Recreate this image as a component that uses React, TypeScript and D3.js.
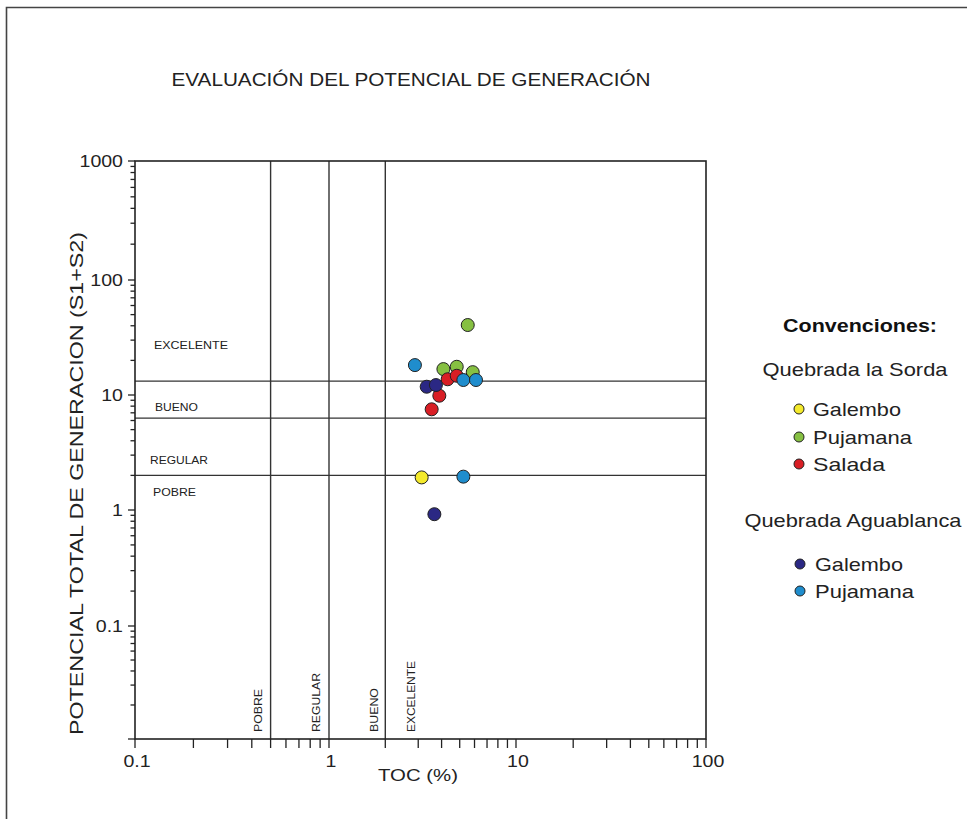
import React from "react";
import * as d3 from "d3";

// ---- data ----
const sordaGalembo = [{ toc: 3.13, s: 1.92 }];
const sordaPujamana = [
  { toc: 5.52, s: 40.6 },
  { toc: 4.09, s: 16.8 },
  { toc: 4.82, s: 17.6 },
  { toc: 5.87, s: 15.8 },
];
const sordaSalada = [
  { toc: 4.31, s: 13.7 },
  { toc: 4.82, s: 14.7 },
  { toc: 3.89, s: 9.86 },
  { toc: 3.54, s: 7.51 },
];
const aguaPujamana = [
  { toc: 2.88, s: 18.2 },
  { toc: 5.23, s: 13.5 },
  { toc: 6.11, s: 13.5 },
  { toc: 5.23, s: 1.95 },
];
const aguaGalembo = [
  { toc: 3.33, s: 11.8 },
  { toc: 3.73, s: 12.2 },
  { toc: 3.66, s: 0.92 },
];

const tocThresholds = [0.5, 1, 2];
const tocThresholdLabels = ["POBRE", "REGULAR", "BUENO", "EXCELENTE"];
const s1s2Thresholds = [13.2, 6.3, 2];
const s1s2ZoneLabels = ["EXCELENTE", "BUENO", "REGULAR", "POBRE"];
const xDecades = [0.1, 1, 10, 100];
const yDecades = [1000, 100, 10, 1, 0.1, 0.01];
const xTickLabels = ["0.1", "1", "10", "100"];
const yTickLabels = ["1000", "100", "10", "1", "0.1"];

const COLORS = {
  yellow: "#f4ea2c",
  green: "#86c042",
  red: "#d81e25",
  navy: "#2b2884",
  blue: "#1f8dcd",
};

const FONT = "'Liberation Sans', Arial, Helvetica, sans-serif";

const digitWidth = (s: string, fs: number) =>
  s.split("").reduce((a, c) => a + (c === "." ? 0.278 : 0.556), 0) * fs;

export default function App() {
  const W = 967;
  const H = 819;
  const x0 = 135, x1 = 706, y0 = 161, y1 = 739;
  // the original graph's decades are not perfectly evenly spaced: piecewise log scales
  const x = d3.scaleLog().domain(xDecades).range([135, 329, 516, 706]);
  const y = d3.scaleLog().domain(yDecades).range([161, 280, 395, 510, 626, 739]);

  const yTicks = d3.scaleLog().domain([0.01, 1000]).ticks();
  const xTicks = d3.scaleLog().domain([0.1, 100]).ticks();
  const isMajor = (v: number) => Math.abs(Math.log10(v) - Math.round(Math.log10(v))) < 1e-6;

  const series = [
    { data: sordaPujamana, color: COLORS.green },
    { data: sordaSalada, color: COLORS.red },
    { data: aguaPujamana, color: COLORS.blue },
    { data: aguaGalembo, color: COLORS.navy },
    { data: sordaGalembo, color: COLORS.yellow },
  ];

  const hZone = [
    { x: 154, y: 345, w: 74 },
    { x: 155, y: 407, w: 43 },
    { x: 150, y: 460, w: 58 },
    { x: 153, y: 492, w: 43 },
  ];
  const vZone = [
    { x: 258, w: 43 },
    { x: 316, w: 59 },
    { x: 374, w: 44 },
    { x: 411, w: 71 },
  ];

  const legend1 = [
    { label: "Galembo", color: COLORS.yellow, y: 409, w: 88 },
    { label: "Pujamana", color: COLORS.green, y: 437, w: 99 },
    { label: "Salada", color: COLORS.red, y: 464, w: 72 },
  ];
  const legend2 = [
    { label: "Galembo", color: COLORS.navy, y: 564, w: 88 },
    { label: "Pujamana", color: COLORS.blue, y: 591, w: 99 },
  ];

  const TFS = 17;
  const stretch = 1.15;

  return (
    <svg
      width={W}
      height={H}
      style={{ position: "absolute", left: 0, top: 0, background: "#fff" }}
      fontFamily={FONT}
    >
      <rect x={0} y={0} width={W} height={H} fill="#fff" />
      {/* outer frame */}
      <path d={`M6.5,${H} V7.5 H${W}`} fill="none" stroke="#444" strokeWidth={1.6} />

      {/* title */}
      <text x={411} y={86} textAnchor="middle" fontSize={17.5} fill="#222" textLength={479} lengthAdjust="spacingAndGlyphs">
        EVALUACIÓN DEL POTENCIAL DE GENERACIÓN
      </text>

      {/* threshold lines */}
      {s1s2Thresholds.map((v, i) => (
        <line key={"h" + i} x1={x0} x2={x1} y1={y(v)} y2={y(v)} stroke="#333" strokeWidth={1.4} />
      ))}
      {tocThresholds.map((v, i) => (
        <line key={"v" + i} x1={x(v)} x2={x(v)} y1={y0} y2={y1} stroke="#333" strokeWidth={1.4} />
      ))}

      {/* zone labels */}
      {s1s2ZoneLabels.map((t, i) => (
        <text key={"hz" + i} x={hZone[i].x} y={hZone[i].y + 4} fontSize={11.5} fill="#222" textLength={hZone[i].w} lengthAdjust="spacingAndGlyphs">
          {t}
        </text>
      ))}
      {tocThresholdLabels.map((t, i) => (
        <text
          key={"vz" + i}
          transform={`translate(${vZone[i].x + 4},732) rotate(-90)`}
          fontSize={11.5}
          fill="#222"
          textLength={vZone[i].w}
          lengthAdjust="spacingAndGlyphs"
        >
          {t}
        </text>
      ))}

      {/* plot box */}
      <rect x={x0} y={y0} width={x1 - x0} height={y1 - y0} fill="none" stroke="#222" strokeWidth={1.6} />

      {/* y ticks */}
      {yTicks.map((v, i) => (
        <line key={"yt" + i} x1={x0 - (isMajor(v) ? 7 : 4.5)} x2={x0} y1={y(v)} y2={y(v)} stroke="#222" strokeWidth={1.3} />
      ))}
      {yTickLabels.map((s, i) => (
        <text
          key={"yl" + i}
          x={x0 - 12}
          y={y(yDecades[i]) + 6}
          textAnchor="end"
          fontSize={TFS}
          fill="#222"
          textLength={digitWidth(s, TFS) * stretch}
          lengthAdjust="spacingAndGlyphs"
        >
          {s}
        </text>
      ))}

      {/* x ticks */}
      {xTicks.map((v, i) => (
        <line key={"xt" + i} x1={x(v)} x2={x(v)} y1={y1} y2={y1 + 9} stroke="#222" strokeWidth={1.3} />
      ))}
      {xTickLabels.map((s, i) => (
        <text
          key={"xl" + i}
          x={x(xDecades[i]) + 2}
          y={767}
          textAnchor="middle"
          fontSize={TFS}
          fill="#222"
          textLength={digitWidth(s, TFS) * stretch}
          lengthAdjust="spacingAndGlyphs"
        >
          {s}
        </text>
      ))}

      {/* axis titles */}
      <text x={418} y={781} textAnchor="middle" fontSize={16.5} fill="#222" textLength={80} lengthAdjust="spacingAndGlyphs">
        TOC (%)
      </text>
      <text
        transform={`translate(83,${(232 + 735) / 2}) rotate(-90)`}
        textAnchor="middle"
        fontSize={18}
        fill="#222"
        textLength={503}
        lengthAdjust="spacingAndGlyphs"
      >
        POTENCIAL TOTAL DE GENERACION  (S1+S2)
      </text>

      {/* points */}
      {series.map((s, si) =>
        s.data.map((d, i) => (
          <circle key={si + "-" + i} cx={x(d.toc)} cy={y(d.s)} r={6.5} fill={s.color} stroke="#222" strokeWidth={1} />
        ))
      )}

      {/* legend */}
      <text x={860} y={332} textAnchor="middle" fontSize={18} fontWeight="bold" fill="#111" textLength={154} lengthAdjust="spacingAndGlyphs">
        Convenciones:
      </text>
      <text x={855} y={376} textAnchor="middle" fontSize={19} fill="#222" textLength={185} lengthAdjust="spacingAndGlyphs">
        Quebrada la Sorda
      </text>
      {legend1.map((l, i) => (
        <g key={"l1" + i}>
          <circle cx={799} cy={l.y} r={5} fill={l.color} stroke="#222" strokeWidth={1} />
          <text x={813} y={l.y + 7} fontSize={19} fill="#222" textLength={l.w} lengthAdjust="spacingAndGlyphs">
            {l.label}
          </text>
        </g>
      ))}
      <text x={853} y={527} textAnchor="middle" fontSize={19} fill="#222" textLength={217} lengthAdjust="spacingAndGlyphs">
        Quebrada Aguablanca
      </text>
      {legend2.map((l, i) => (
        <g key={"l2" + i}>
          <circle cx={800} cy={l.y} r={5} fill={l.color} stroke="#222" strokeWidth={1} />
          <text x={815} y={l.y + 7} fontSize={19} fill="#222" textLength={l.w} lengthAdjust="spacingAndGlyphs">
            {l.label}
          </text>
        </g>
      ))}
    </svg>
  );
}
